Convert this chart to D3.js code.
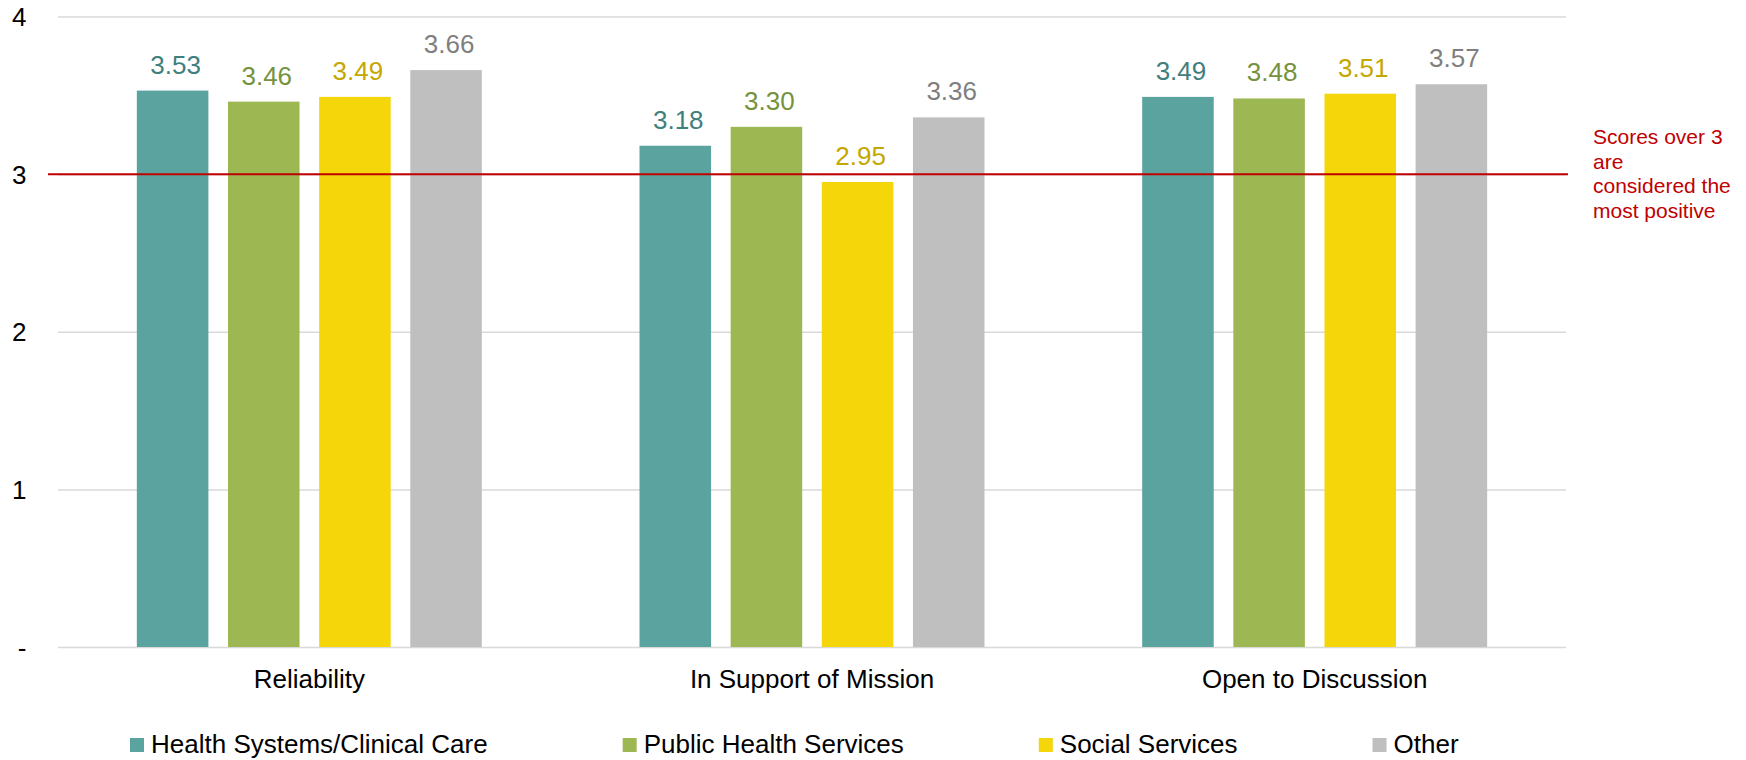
<!DOCTYPE html>
<html>
<head>
<meta charset="utf-8">
<script src="https://cdn.jsdelivr.net/npm/d3@7"></script>
<style>
  html, body { margin: 0; padding: 0; background: #fff; }
  svg { display: block; font-family: "Liberation Sans", Arial, Helvetica, sans-serif; }
</style>
</head>
<body>
<svg id="chart" width="1746" height="760"></svg>
<script>
// Survey dimensions and respondent sectors
const categories = ["Reliability", "In Support of Mission", "Open to Discussion"];
const series = ["Health Systems/Clinical Care", "Public Health Services", "Social Services", "Other"];

// Mean scores per sector, in category order
const healthSystems = [3.53, 3.18, 3.49];
const publicHealth = [3.46, 3.30, 3.48];
const socialServices = [3.49, 2.95, 3.51];
const other = [3.66, 3.36, 3.57];

// Y axis ticks and their labels
const yTicks = [0, 1, 2, 3, 4];
const yTickLabels = ["-", "1", "2", "3", "4"];

// Threshold marked by the reference line
const threshold = 3;
const thresholdNote = ["Scores over 3", "are", "considered the", "most positive"];

const seriesValues = [healthSystems, publicHealth, socialServices, other];
const barColors = ["#5AA39E", "#9DB752", "#F5D60A", "#BFBFBF"];
const labelColors = ["#3F807C", "#76923C", "#C4A700", "#7F7F7F"];

const svg = d3.select("#chart");
const plot = { left: 58, right: 1566, top: 16.5, bottom: 647 };

const x0 = d3.scaleBand().domain(categories).range([plot.left, plot.right]).padding(0);
const x1 = d3.scaleBand().domain(series).range([0, x0.bandwidth()])
  .paddingInner(0.215).paddingOuter(0.865);
const y = d3.scaleLinear().domain([0, 4]).range([plot.bottom, plot.top]);

// Horizontal gridlines
const yAxis = d3.axisLeft(y).tickValues(yTicks)
  .tickSize(-(plot.right - plot.left))
  .tickFormat((d, i) => yTickLabels[i]);
const gy = svg.append("g").attr("transform", `translate(${plot.left},0)`).call(yAxis);
gy.select(".domain").remove();
gy.selectAll(".tick line").attr("stroke", "#D9D9D9").attr("stroke-width", 1.5);
gy.selectAll(".tick text")
  .attr("x", -31.5)
  .attr("dy", "0.35em")
  .attr("fill", "#000")
  .style("font-size", "26px")
  .style("font-family", "'Liberation Sans', Arial, sans-serif")
  .attr("text-anchor", "end");

// Bars
const rows = categories.map((c, ci) => ({
  category: c,
  values: series.map((s, si) => ({ series: s, si, value: seriesValues[si][ci] }))
}));

const groups = svg.append("g").selectAll("g").data(rows).join("g")
  .attr("transform", d => `translate(${x0(d.category)},0)`);

groups.selectAll("rect").data(d => d.values).join("rect")
  .attr("x", d => x1(d.series))
  .attr("y", d => y(d.value))
  .attr("width", x1.bandwidth())
  .attr("height", d => y(0) - y(d.value))
  .attr("fill", d => barColors[d.si]);

groups.selectAll("text.value").data(d => d.values).join("text")
  .attr("class", "value")
  .attr("x", d => x1(d.series) + x1.bandwidth() / 2 + 3)
  .attr("y", d => y(d.value) - 17)
  .attr("text-anchor", "middle")
  .attr("fill", d => labelColors[d.si])
  .style("font-size", "26px")
  .text(d => d.value.toFixed(2));

// Category axis labels
svg.append("g").selectAll("text").data(categories).join("text")
  .attr("x", d => x0(d) + x0.bandwidth() / 2)
  .attr("y", 688)
  .attr("text-anchor", "middle")
  .attr("fill", "#000")
  .style("font-size", "26px")
  .text(d => d);

// Threshold line and note
svg.append("line")
  .attr("x1", 48).attr("x2", 1568)
  .attr("y1", y(threshold)).attr("y2", y(threshold))
  .attr("stroke", "#C00000").attr("stroke-width", 2);

svg.append("text")
  .attr("x", 1593).attr("y", 144)
  .attr("fill", "#C00000")
  .style("font-size", "21px")
  .selectAll("tspan").data(thresholdNote).join("tspan")
  .attr("x", 1593)
  .attr("dy", (d, i) => i === 0 ? 0 : 24.7)
  .text(d => d);

// Legend
const legend = svg.append("g");
let lx = 130;
series.forEach((s, i) => {
  legend.append("rect")
    .attr("x", lx).attr("y", 738).attr("width", 14).attr("height", 14)
    .attr("fill", barColors[i]);
  const t = legend.append("text")
    .attr("x", lx + 21).attr("y", 753)
    .attr("fill", "#000")
    .style("font-size", "26px")
    .text(s);
  lx += 21 + t.node().getComputedTextLength() + 135;
});
</script>
</body>
</html>
